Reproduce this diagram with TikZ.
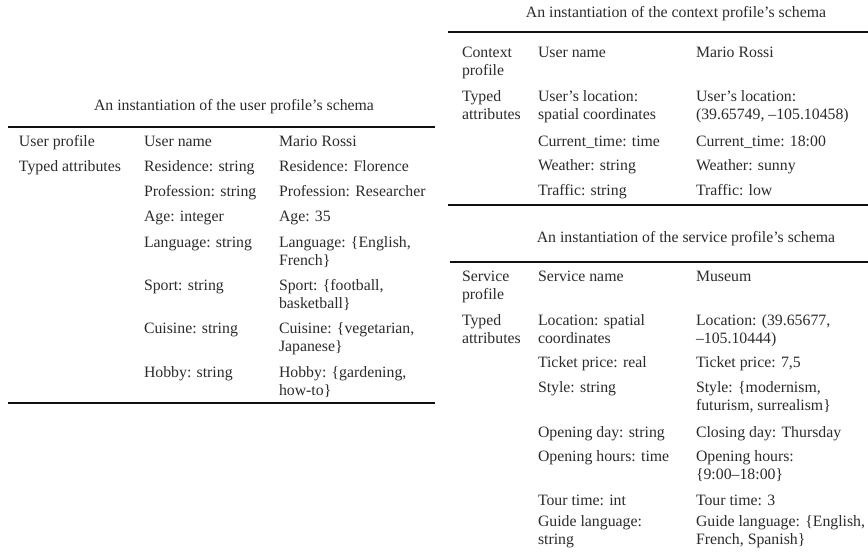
\documentclass[tikz,border=0pt]{standalone}
\usepackage{fontspec}
\setmainfont{Liberation Serif}
\definecolor{ink}{HTML}{2B2B2B}
\definecolor{rulecol}{HTML}{111111}
\newcommand{\tabfont}{\fontsize{15.8}{18}\selectfont}
% two-line cell, aligned on the baseline of its first line
\newcommand{\twoline}[2]{\begin{tabular}[t]{@{}l@{}}#1\\#2\end{tabular}}
\begin{document}
\begin{tikzpicture}[x=1pt,y=-1pt,
  cell/.style={anchor=base west, inner sep=0pt, outer sep=0pt, font=\tabfont, text=ink},
  caption/.style={anchor=base, inner sep=0pt, outer sep=0pt, font=\tabfont, text=ink},
  rule/.style={line width=2.7pt, draw=rulecol}]
\useasboundingbox (0,0) rectangle (868,554);

% ---------------- user profile ----------------
\node[caption] (ucap) at (234,110) {An instantiation of the user profile’s schema};
\coordinate (utl) at (8,127);  \coordinate (utr) at (435,127);
\coordinate (ubl) at (8,403);  \coordinate (ubr) at (435,403);
\draw[rule] (utl) -- (utr);
\draw[rule] (ubl) -- (ubr);

\node[cell] (u11) at (19,146)  {User profile};
\node[cell] (u12) at (144,146) {User name};
\node[cell] (u13) at (279,146) {Mario Rossi};
\node[cell] (u21) at (19,171)  {Typed attributes};
\node[cell] (u22) at (144,171) {Residence: string};
\node[cell] (u23) at (279,171) {Residence: Florence};
\node[cell] (u32) at (144,196) {Profession: string};
\node[cell] (u33) at (279,196) {Profession: Researcher};
\node[cell] (u42) at (144,221) {Age: integer};
\node[cell] (u43) at (279,221) {Age: 35};
\node[cell] (u52) at (144,247) {Language: string};
\node[cell] (u53) at (279,247) {\twoline{Language: \{English,}{French\}}};
\node[cell] (u62) at (144,290) {Sport: string};
\node[cell] (u63) at (279,290) {\twoline{Sport: \{football,}{basketball\}}};
\node[cell] (u72) at (144,333) {Cuisine: string};
\node[cell] (u73) at (279,333) {\twoline{Cuisine: \{vegetarian,}{Japanese\}}};
\node[cell] (u82) at (144,377) {Hobby: string};
\node[cell] (u83) at (279,377) {\twoline{Hobby: \{gardening,}{how-to\}}};

% ---------------- context profile ----------------
\node[caption] (ccap) at (676,17) {An instantiation of the context profile’s schema};
\coordinate (ctl) at (448,32);  \coordinate (ctr) at (868,32);
\coordinate (cbl) at (448,205); \coordinate (cbr) at (868,205);
\draw[rule] (ctl) -- (ctr);
\draw[rule] (cbl) -- (cbr);

\node[cell] (c11) at (462,57)  {\twoline{Context}{profile}};
\node[cell] (c12) at (538,57)  {User name};
\node[cell] (c13) at (696,57)  {Mario Rossi};
\node[cell] (c21) at (462,101) {\twoline{Typed}{attributes}};
\node[cell] (c22) at (538,101) {\twoline{User’s location:}{spatial coordinates}};
\node[cell] (c23) at (696,101) {\twoline{User’s location:}{(39.65749, –105.10458)}};
\node[cell] (c32) at (538,146) {Current\_time: time};
\node[cell] (c33) at (696,146) {Current\_time: 18:00};
\node[cell] (c42) at (538,170) {Weather: string};
\node[cell] (c43) at (696,170) {Weather: sunny};
\node[cell] (c52) at (538,195) {Traffic: string};
\node[cell] (c53) at (696,195) {Traffic: low};

% ---------------- service profile ----------------
\node[caption] (scap) at (686,242) {An instantiation of the service profile’s schema};
\coordinate (stl) at (450,262); \coordinate (str) at (868,262);
\draw[rule] (stl) -- (str);

\node[cell] (s11) at (462,281) {\twoline{Service}{profile}};
\node[cell] (s12) at (538,281) {Service name};
\node[cell] (s13) at (696,281) {Museum};
\node[cell] (s21) at (462,325) {\twoline{Typed}{attributes}};
\node[cell] (s22) at (538,325) {\twoline{Location: spatial}{coordinates}};
\node[cell] (s23) at (696,325) {\twoline{Location: (39.65677,}{–105.10444)}};
\node[cell] (s32) at (538,367) {Ticket price: real};
\node[cell] (s33) at (696,367) {Ticket price: 7,5};
\node[cell] (s42) at (538,392) {Style: string};
\node[cell] (s43) at (696,392) {\twoline{Style: \{modernism,}{futurism, surrealism\}}};
\node[cell] (s52) at (538,437) {Opening day: string};
\node[cell] (s53) at (696,437) {Closing day: Thursday};
\node[cell] (s62) at (538,461) {Opening hours: time};
\node[cell] (s63) at (696,461) {\twoline{Opening hours:}{\{9:00–18:00\}}};
\node[cell] (s72) at (538,505) {Tour time: int};
\node[cell] (s73) at (696,505) {Tour time: 3};
\node[cell] (s82) at (538,526) {\twoline{Guide language:}{string}};
\node[cell] (s83) at (696,526) {\twoline{Guide language: \{English,}{French, Spanish\}}};
\end{tikzpicture}
\end{document}
